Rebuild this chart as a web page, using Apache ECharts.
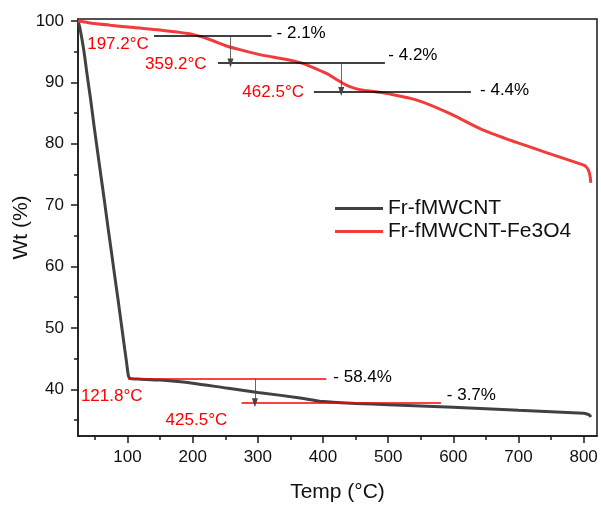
<!DOCTYPE html>
<html>
<head>
<meta charset="utf-8">
<script src="https://cdn.jsdelivr.net/npm/echarts@6/dist/echarts.min.js"></script>
<style>html,body{margin:0;padding:0;background:#fff}#c{width:601px;height:505px}</style>
</head>
<body>
<div id="c"></div>
<script>
// ---- data ----
const seriesNames = ['Fr-fMWCNT', 'Fr-fMWCNT-Fe3O4'];
const frMWCNT = [[24,100],[27,98.8],[32.9,95.2],[38,91.2],[43.5,87.1],[48.5,83.0],[53.8,78.9],[59,74.9],[64.4,70.8],[69.6,66.7],[75,62.6],[80.3,58.5],[85.6,54.5],[90.8,50.4],[95.9,46.4],[98.5,44.4],[100.3,42.9],[101.6,42.1],[103.5,41.8],[107,41.72],[120,41.65],[150,41.5],[200,41.0],[252,40.2],[300,39.5],[365,38.6],[400,38.0],[450,37.7],[500,37.5],[600,37.1],[700,36.6],[800,36.1],[806,35.95],[809,35.8],[811,35.5]];
const frMWCNTFe = [[24,100],[40,99.7],[73,99.3],[110,98.9],[150,98.5],[200,97.8],[225,97.0],[252,95.9],[280,95.1],[303,94.5],[340,93.8],[365,93.2],[385,92.4],[406,91.4],[420,90.5],[431,89.8],[441,89.3],[457,88.8],[492,88.3],[544,87.1],[595,84.9],[646,82.2],[697,80.2],[750,78.3],[800,76.5],[805,76.1],[808,75.5],[810,74.6],[811,73.6]];
const xMajorTicks = [100,200,300,400,500,600,700,800];
const xMinorTicks = [50,150,250,350,450,550,650,750];
const yMajorTicks = [40,50,60,70,80,90,100];
const yMinorTicks = [35,45,55,65,75,85,95];
// step lines: [xStart, xEnd, wt]
const fe3o4Steps = [[140.6,321,97.5],[238.7,495,93.14],[386,627,88.5]];
const cntSteps = [[101,405,41.7],[275,581,37.8]];
// arrows: [x, wtFrom, wtTo]
const arrows = [[258,97.5,93.14],[428,93.14,88.5],[295.5,41.7,37.8]];
// loss labels: [x, wt, text]
const lossLabels = [[328.8,97.9,'- 2.1%'],[500.3,94.4,'- 4.2%'],[641,88.7,'- 4.4%'],[415.8,41.9,'- 58.4%'],[590,39.0,'- 3.7%']];
// temperature labels: [x, wt, text]
const tempLabels = [[132.7,96.1,'197.2°C'],[221.4,92.9,'359.2°C'],[370.8,88.3,'462.5°C'],[123,38.9,'121.8°C'],[253,35.0,'425.5°C']];

const FONT = '"Liberation Sans", Arial, sans-serif';
const AX = '#1a1a1a';
const RED_TXT = '#ff0000';

const chart = echarts.init(document.getElementById('c'), null, {renderer: 'canvas'});

const markLineData = [];
fe3o4Steps.forEach(s => markLineData.push([{coord:[s[0],s[2]], lineStyle:{color:'#000',width:1.6,type:'solid'}},{coord:[s[1],s[2]]}]));
cntSteps.forEach(s => markLineData.push([{coord:[s[0],s[2]], lineStyle:{color:'#ff0000',width:1.6,type:'solid'}},{coord:[s[1],s[2]]}]));

const arrowData = arrows.map(a => [{coord:[a[0],a[1]]},{coord:[a[0],a[2]]}]);

const option = {
  animation: false,
  grid: {left: 78, right: 4, top: 19, bottom: 69, show: true, borderColor: AX, borderWidth: 1.5, backgroundColor: 'transparent', containLabel: false, outerBoundsMode: 'none'},
  legend: {
    orient: 'vertical', left: 335, top: 198, padding: 0, itemGap: 2,
    itemWidth: 48, itemHeight: 3,
    textStyle: {fontFamily: FONT, fontSize: 21, color: '#111'},
    data: [{name: seriesNames[0], icon: 'rect'}, {name: seriesNames[1], icon: 'rect'}]
  },
  xAxis: [{
    type: 'value', min: 24, max: 820.5,
    name: 'Temp (°C)', nameLocation: 'middle', nameGap: 46, nameMoveOverlap: false,
    nameTextStyle: {fontFamily: FONT, fontSize: 21, color: '#111'},
    axisLine: {show: true, lineStyle: {color: AX, width: 1.5}},
    axisTick: {show: true, inside: false, length: 7, lineStyle: {color: AX, width: 1.5}, customValues: xMajorTicks},
    axisLabel: {fontFamily: FONT, fontSize: 17, color: '#111', margin: 13, customValues: xMajorTicks},
    splitLine: {show: false}
  }, {
    type: 'value', min: 24, max: 820.5, position: 'bottom',
    axisLine: {show: false},
    axisTick: {show: true, inside: false, length: 4, lineStyle: {color: AX, width: 1.5}, customValues: xMinorTicks},
    axisLabel: {show: false},
    splitLine: {show: false}
  }],
  yAxis: [{
    type: 'value', min: 32.4, max: 100.3,
    name: 'Wt (%)', nameLocation: 'middle', nameGap: 46, nameRotate: 90, nameMoveOverlap: false,
    nameTextStyle: {fontFamily: FONT, fontSize: 21, color: '#111'},
    axisLine: {show: true, lineStyle: {color: AX, width: 1.5}},
    axisTick: {show: true, inside: false, length: 7, lineStyle: {color: AX, width: 1.5}, customValues: yMajorTicks},
    axisLabel: {fontFamily: FONT, fontSize: 17, color: '#111', margin: 14, customValues: yMajorTicks},
    splitLine: {show: false}
  }, {
    type: 'value', min: 32.4, max: 100.3, position: 'left',
    axisLine: {show: false},
    axisTick: {show: true, inside: false, length: 4, lineStyle: {color: AX, width: 1.5}, customValues: yMinorTicks},
    axisLabel: {show: false},
    splitLine: {show: false}
  }],
  series: [
    {
      name: seriesNames[0], type: 'line', data: frMWCNT, showSymbol: false, smooth: 0.25,
      lineStyle: {color: '#414141', width: 3}, itemStyle: {color: '#414141'}, z: 3
    },
    {
      name: seriesNames[1], type: 'line', data: frMWCNTFe, showSymbol: false, smooth: 0.25,
      lineStyle: {color: '#f03c3c', width: 3}, itemStyle: {color: '#f03c3c'}, z: 3
    },
    {
      name: 'steps', type: 'line', data: [], z: 4,
      markLine: {silent: true, symbol: ['none','none'], label: {show: false}, animation: false, data: markLineData}
    },
    {
      name: 'arrows', type: 'line', data: [], z: 4,
      markLine: {silent: true, symbol: ['none','triangle'], symbolSize: [6,9], label: {show: false}, animation: false,
        lineStyle: {color: '#444', width: 0.8, type: 'solid'}, itemStyle: {color: '#000'}, data: arrowData}
    },
    {
      name: 'lossText', type: 'scatter', symbolSize: 0, z: 5, silent: true,
      itemStyle: {opacity: 1},
      data: lossLabels.map(l => ({value: [l[0], l[1]], name: l[2]})),
      label: {show: true, opacity: 1, position: 'right', distance: 0, formatter: p => p.name, fontFamily: FONT, fontSize: 17, color: '#000', align: 'left', verticalAlign: 'middle'}
    },
    {
      name: 'tempText', type: 'scatter', symbolSize: 0, z: 5, silent: true,
      itemStyle: {opacity: 1},
      data: tempLabels.map(l => ({value: [l[0], l[1]], name: l[2]})),
      label: {show: true, opacity: 1, position: 'left', distance: 0, formatter: p => p.name, fontFamily: FONT, fontSize: 17, color: RED_TXT, align: 'right', verticalAlign: 'middle'}
    }
  ]
};
chart.setOption(option);
</script>
</body>
</html>
